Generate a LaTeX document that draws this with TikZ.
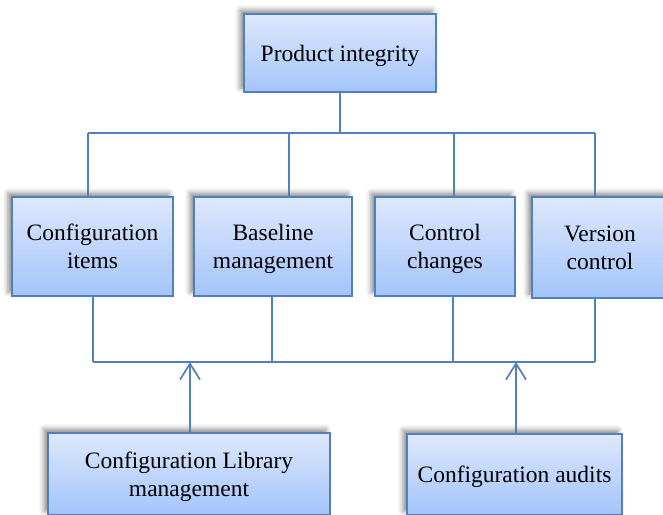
\documentclass[tikz,border=0pt]{standalone}
\usepackage{fontspec}
\setmainfont{Liberation Serif}
\usetikzlibrary{shadows.blur,arrows.meta}
\definecolor{edge}{RGB}{79,129,189}
\definecolor{topc}{RGB}{222,232,252}
\definecolor{botc}{RGB}{163,196,250}
\tikzset{
  box/.style={draw=edge, line width=1.5pt, top color=topc, bottom color=botc,
    align=center, inner sep=0pt, anchor=center, text depth=0pt,
    font=\fontsize{23.5}{28}\selectfont,
    blur shadow={shadow xshift=-4pt, shadow yshift=4pt, shadow blur radius=5pt, shadow opacity=45}},
  conn/.style={draw=edge, line width=1.7pt},
  up/.style={conn, -{Straight Barb[length=16pt,width=20pt,line width=1.7pt]}}
}
\begin{document}
\begin{tikzpicture}[x=1pt,y=-1pt]
\node[box, minimum width=192pt, minimum height=78pt] (top) at (340,53) {Product integrity};
\node[box, minimum width=161pt, minimum height=99pt] (b1) at (92.5,246.5) {Configuration\\items};
\node[box, minimum width=158pt, minimum height=99pt] (b2) at (273,246.5) {Baseline\\management};
\node[box, minimum width=140pt, minimum height=99pt] (b3) at (445,246.5) {Control\\changes};
\node[box, minimum width=136pt, minimum height=101pt] (b4) at (600,247.5) {Version\\control};
\node[box, minimum width=282pt, minimum height=82pt] (l1) at (189,474) {Configuration Library\\management};
\node[box, minimum width=215pt, minimum height=81pt] (l2) at (514.5,474.5) {Configuration audits};
% top tree
\coordinate (jt) at (340,133);
\coordinate (t1) at (88,133);
\coordinate (t2) at (289,133);
\coordinate (t3) at (454,133);
\coordinate (t4) at (595,133);
\draw[conn] (top.south) -- (jt);
\draw[conn] (t1) -- (t4);
\draw[conn] (t1) -- (t1 |- b1.north);
\draw[conn] (t2) -- (t2 |- b2.north);
\draw[conn] (t3) -- (t3 |- b3.north);
\draw[conn] (t4) -- (t4 |- b4.north);
% bottom bus
\coordinate (u1) at (93,362);
\coordinate (u2) at (272,362);
\coordinate (u3) at (453,362);
\coordinate (u4) at (595,362);
\draw[conn] (u1) -- (u4);
\draw[conn] (u1 |- b1.south) -- (u1);
\draw[conn] (u2 |- b2.south) -- (u2);
\draw[conn] (u3 |- b3.south) -- (u3);
\draw[conn] (u4 |- b4.south) -- (u4);
% arrows
\coordinate (a1) at (190,362);
\coordinate (a2) at (516,362);
\draw[up] (a1 |- l1.north) -- (a1);
\draw[up] (a2 |- l2.north) -- (a2);
\pgfresetboundingbox
\useasboundingbox (0,0) rectangle (663,514);
\end{tikzpicture}
\end{document}
